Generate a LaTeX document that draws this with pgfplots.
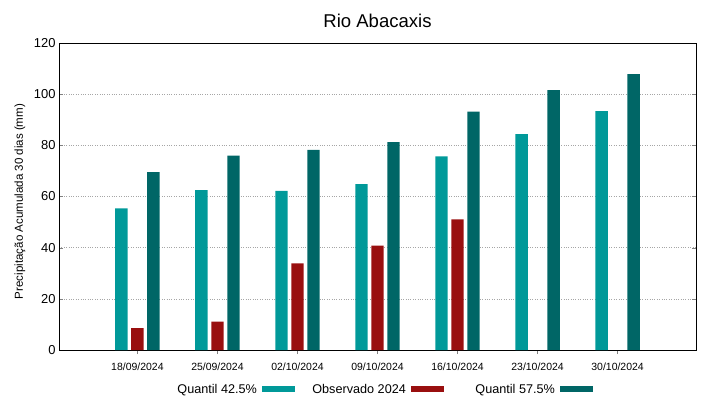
\documentclass[border=0pt]{standalone}
\usepackage{pgfplots}
\pgfplotsset{compat=1.18}
\usepackage{fontspec}
\setmainfont{Liberation Sans}
\definecolor{qlow}{RGB}{0,153,153}
\definecolor{obs}{RGB}{153,15,15}
\definecolor{qhigh}{RGB}{0,102,102}
\begin{document}
\begin{tikzpicture}[x=1bp,y=1bp]
\path (0,0) rectangle (719,399);
\begin{axis}[
  at={(59bp,49bp)}, anchor=south west,
  scale only axis, width=637bp, height=307bp,
  xmin=-0.98, xmax=6.98, ymin=0, ymax=120,
  ytick={0,20,...,120},
  xtick={0,...,6},
  xticklabels={18/09/2024,25/09/2024,02/10/2024,09/10/2024,16/10/2024,23/10/2024,30/10/2024},
  x tick label style={font=\fontsize{10.5}{12}\selectfont, yshift=-5.5bp},
  y tick label style={font=\fontsize{13}{15}\selectfont},
  /pgf/number format/assume math mode=true,
  tick align=inside, xtick pos=bottom, ytick pos=both,
  major tick length=4bp,
  axis line style={black, line width=0.8bp},
  ymajorgrids, grid style={gray!70, dotted, line width=0.6bp},
  ylabel={Precipitação Acumulada 30 dias (mm)},
  every axis y label/.style={at={(rel axis cs:0,0.5)}, xshift=-39bp, yshift=-5bp, rotate=90, anchor=center,
    font=\fontsize{11.6}{13}\selectfont},
  title={Rio Abacaxis},
  title style={font=\fontsize{18.6}{21}\selectfont, yshift=6bp},
  ybar, bar width=0.155,
  legend columns=3,
  legend plot pos=right,
  legend style={at={(0.492,-0.11)}, anchor=north, draw=none, fill=none,
    font=\fontsize{12.7}{14}\selectfont,
    nodes={inner sep=0pt, anchor=base},
    /tikz/every even column/.append style={column sep=6bp},
    /tikz/every odd column/.append style={column sep=5bp},
    inner sep=0pt},
  legend image code/.code={\fill[#1] (0bp,1.3bp) rectangle (33bp,6.7bp);},
]
\addplot[fill=qlow, draw=none, bar shift=-0.2] coordinates {(0,55.4) (1,62.5) (2,62.2) (3,64.8) (4,75.7) (5,84.4) (6,93.4)};
\addlegendentry{\makebox[105bp][r]{Quantil 42.5\%}}
\addplot[fill=obs, draw=none, bar shift=0] coordinates {(0,8.6) (1,11.1) (2,33.9) (3,40.8) (4,51.1)};
\addlegendentry{\makebox[105bp][r]{Observado 2024}}
\addplot[fill=qhigh, draw=none, bar shift=0.2] coordinates {(0,69.5) (1,76.0) (2,78.2) (3,81.3) (4,93.2) (5,101.6) (6,107.8)};
\addlegendentry{\makebox[105bp][r]{Quantil 57.5\%}}
\end{axis}
\end{tikzpicture}
\end{document}
